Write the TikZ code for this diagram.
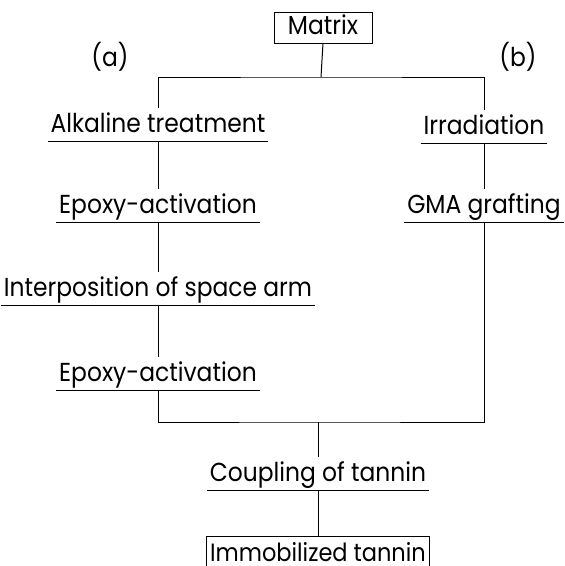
\documentclass[tikz,border=0pt]{standalone}
\usepackage{fontspec}
\setmainfont{Poppins}[FakeStretch=0.9]
\usetikzlibrary{positioning}

\begin{document}
\begin{tikzpicture}[x=1pt, y=-1pt, line width=1pt,
StepStyle/.style={font=\fontsize{26}{28}\selectfont, anchor=base,
                inner xsep=3pt, inner ysep=0pt, text height=24pt,
                text depth=9pt, outer sep=0pt},
BoxStyle/.style={draw, font=\fontsize{26}{28}\selectfont, inner ysep=0pt,
                text height=20pt, text depth=6pt, outer sep=0pt},
LblStyle/.style={font=\fontsize{26}{28}\selectfont},]
\useasboundingbox (0,0) rectangle (565,566);
% start and end
\node [BoxStyle, minimum width=98pt, minimum height=31pt] (matrix) at (323,27.5) {Matrix};
\node [BoxStyle, minimum width=222pt, minimum height=36pt, anchor=north,
       inner xsep=4pt, inner ysep=1pt, font=\fontsize{25}{27}\selectfont]
       (immob) at (318,536) {Immobilized tannin};
\node [LblStyle] (lbla) at (110,57) {(a)};
\node [LblStyle] (lblb) at (518,57) {(b)};
% route (a)
\node [StepStyle] (alk) at (158,132) {Alkaline treatment};
\node [StepStyle] (epoxA) at (158,213) {Epoxy-activation};
\node [StepStyle] (inter) at (158,296) {Interposition of space arm};
\node [StepStyle] (epoxB) at (158,381) {Epoxy-activation};
% route (b)
\node [StepStyle] (irr) at (484,134) {Irradiation};
\node [StepStyle] (gma) at (484,213) {GMA grafting};
% coupling
\node [StepStyle] (coup) at (318,481) {Coupling of tannin};
\coordinate (jtop) at (321,77);
\coordinate (jbot) at (318,422);
\foreach \n in {alk,epoxA,inter,epoxB,irr,gma,coup}
  \draw (\n.south west) -- (\n.south east);
\draw (matrix.south) -- (jtop);
\draw (alk.north) |- (jtop) -| (irr.north);
\draw (alk.south) -- (epoxA.north);
\draw (epoxA.south) -- (inter.north);
\draw (inter.south) -- (epoxB.north);
\draw (irr.south) -- (gma.north);
\draw (epoxB.south) |- (jbot) -| (gma.south);
\draw (jbot) -- (coup.north);
\draw (coup.south) -- (immob.north);
\end{tikzpicture}
\end{document}
